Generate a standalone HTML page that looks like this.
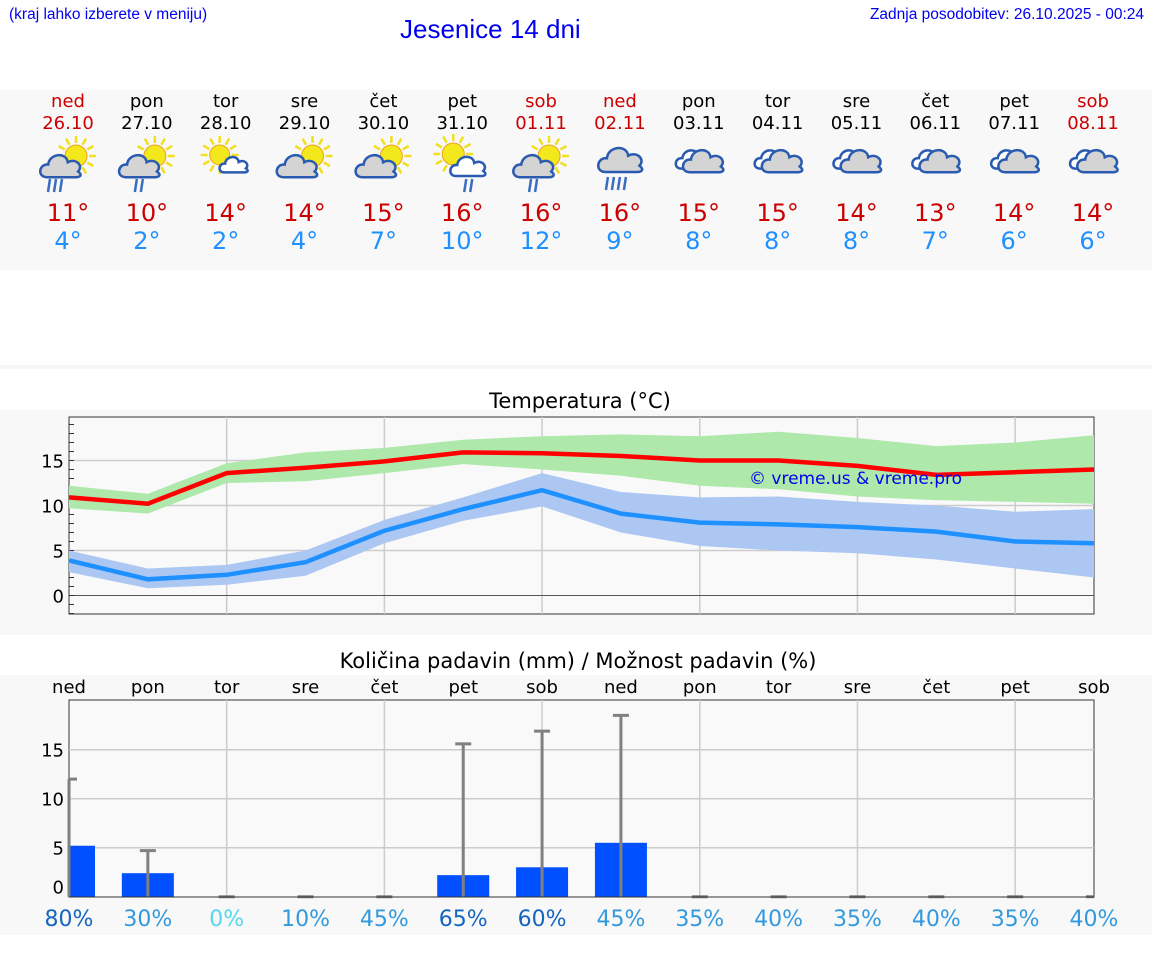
<!DOCTYPE html>
<html><head><meta charset="utf-8">
<style>
body{margin:0;width:1152px;height:975px;background:#fff;font-family:"DejaVu Sans","Liberation Sans",sans-serif;position:relative;overflow:hidden}
.abs{position:absolute}
</style></head>
<body>
<div class="abs" style="left:9px;top:6px;font-size:15.5px;color:#0000ee;font-family:'Liberation Sans',sans-serif">(kraj lahko izberete v meniju)</div>
<div class="abs" style="left:400px;top:14px;font-size:26px;color:#0000ee;font-family:'Liberation Sans',sans-serif">Jesenice 14 dni</div>
<div class="abs" style="right:8px;top:6px;font-size:15.5px;color:#0000ee;font-family:'Liberation Sans',sans-serif">Zadnja posodobitev: 26.10.2025 - 00:24</div>
<svg id="svg" class="abs" style="left:0;top:0" width="1152" height="975"></svg>
<script>
const days=["ned","pon","tor","sre","čet","pet","sob","ned","pon","tor","sre","čet","pet","sob"];
const dates=["26.10","27.10","28.10","29.10","30.10","31.10","01.11","02.11","03.11","04.11","05.11","06.11","07.11","08.11"];
const weekend=[1,0,0,0,0,0,1,1,0,0,0,0,0,1];
const icons=["sunrain","sunrain2","sunsmall","suncloud","suncloud","sunrainR","sunrain2","cloudrain","cloud","cloud","cloud","cloud","cloud","cloud"];
const maxT=[11,10,14,14,15,16,16,16,15,15,14,13,14,14];
const minT=[4,2,2,4,7,10,12,9,8,8,8,7,6,6];
const maxLine=[10.9,10.2,13.6,14.2,14.9,15.9,15.8,15.5,15.0,15.0,14.4,13.4,13.7,14.0];
const maxHi=[12.2,11.3,14.7,15.9,16.4,17.3,17.7,17.9,17.7,18.2,17.5,16.6,17.0,17.8];
const maxLo=[9.7,9.1,12.5,12.7,13.6,14.6,14.0,13.3,12.2,11.8,11.0,10.6,10.4,10.2];
const minLine=[3.9,1.8,2.3,3.7,7.2,9.6,11.7,9.1,8.1,7.9,7.6,7.1,6.0,5.8];
const minHi=[5.0,3.0,3.4,5.0,8.4,10.9,13.6,11.5,10.9,11.0,10.4,10.0,9.3,9.6];
const minLo=[2.6,0.8,1.2,2.2,5.8,8.3,9.9,7.0,5.5,5.0,4.7,4.0,3.0,2.0];
const tempTicks=[0,5,10,15];
const precip=[5.2,2.4,0,0,0,2.2,3.0,5.5,0,0,0,0,0,0];
const precipMax=[12,4.7,0,0,0,15.6,16.9,18.5,0,0,0,0,0,0];
const precipTicks=[0,5,10,15];
const chance=[80,30,0,10,45,65,60,45,35,40,35,40,35,40];

const NS="http://www.w3.org/2000/svg";
const svg=document.getElementById('svg');
function el(tag,attrs,parent){const e=document.createElementNS(NS,tag);for(const k in attrs)e.setAttribute(k,attrs[k]);(parent||svg).appendChild(e);return e;}
function txt(x,y,s,size,fill,name,anchor){const t=el('text',{x:x,y:y,'font-size':size,fill:fill,'text-anchor':anchor||'middle','font-family':'DejaVu Sans, Liberation Sans, sans-serif'});t.textContent=s;return t;}
const X0=69,X1=1094;
const xd=i=>X0+i*(X1-X0)/13;
el('rect',{x:0,y:90,width:1152,height:180,fill:'#f8f8f8'});
el('rect',{x:0,y:365,width:1152,height:4,fill:'#f6f6f6'});
el('rect',{x:0,y:410,width:1152,height:225,fill:'#f8f8f8'});
el('rect',{x:0,y:675,width:1152,height:260,fill:'#f8f8f8'});

function sun(g,cx,cy,r){for(let a=0;a<12;a++){const an=a*Math.PI/6;el('line',{x1:cx+Math.cos(an)*(r+2),y1:cy+Math.sin(an)*(r+2),x2:cx+Math.cos(an)*(r+9),y2:cy+Math.sin(an)*(r+9),stroke:'#f0e020','stroke-width':2.5},g);}el('circle',{cx:cx,cy:cy,r:r,fill:'#f3e81c',stroke:'#f0a020','stroke-width':1},g);}
function cloudP(g,cx,cy,s,fill){const p=`M${cx-13*s},${cy+8*s} C${cx-22*s},${cy+8*s} ${cx-20*s},${cy-4*s} ${cx-12*s},${cy-3*s} C${cx-11*s},${cy-13*s} ${cx+4*s},${cy-14*s} ${cx+5*s},${cy-5*s} C${cx+12*s},${cy-9*s} ${cx+19*s},${cy-2*s} ${cx+14*s},${cy+3*s} C${cx+18*s},${cy+6*s} ${cx+16*s},${cy+8*s} ${cx+12*s},${cy+8*s} Z`;el('path',{d:p,fill:fill,stroke:'#2a5bb0','stroke-width':2.5},g);}
function rain(g,cx,cy,n){for(let k=0;k<n;k++){el('line',{x1:cx+k*6,y1:cy,x2:cx+k*6-2,y2:cy+13,stroke:'#3a6cc0','stroke-width':2.5},g);}}
for(let i=0;i<14;i++){
  const x=xd(i)-1;
  const col=weekend[i]?'#cc0000':'#000';
  txt(x,107,days[i],18,col,'day-label');
  txt(x,129,dates[i],18,col,'date-label');
  const g=el('g',{});
  
  
  const t=icons[i];
  if(t.startsWith('sun')&&t!=='sunsmall'&&t!=='sunrainR'){sun(g,x+8,156,11);cloudP(g,x-6,168,1.15,'#d4d4d4');}
  if(t==='sunsmall'){sun(g,x-6,155,10);cloudP(g,x+9,166,0.8,'#fff');}
  if(t==='sunrainR'){sun(g,x-9,154,11);cloudP(g,x+7,168,1.0,'#fff');rain(g,x+4,179,2);}
  if(t==='sunrain')rain(g,x-18,179,3);
  if(t==='sunrain2')rain(g,x-10,179,2);
  if(t==='cloudrain'){cloudP(g,x+2,162,1.25,'#d4d4d4');rain(g,x-12,177,4);}
  if(t==='cloud'){cloudP(g,x-5,161,0.95,'#fff');cloudP(g,x+6,163,1.15,'#d4d4d4');}
  txt(x,221,maxT[i]+'°',24,'#cc0000','max-temp');
  txt(x,249,minT[i]+'°',24,'#1e90ff','min-temp');
}

const TY0=417,TY1=614;
const ty=v=>595.5-v*9;
txt(580,408,'Temperatura (°C)',21,'#000','temp-chart-title');
el('rect',{x:X0,y:TY0,width:X1-X0,height:TY1-TY0,fill:'#f9f9f9',stroke:'#333','stroke-width':1});
for(let i=2;i<13;i+=2){el('line',{x1:xd(i),y1:TY0,x2:xd(i),y2:TY1,stroke:'#ccc','stroke-width':1.5});}
tempTicks.forEach(v=>{el('line',{x1:X0,y1:ty(v),x2:X1,y2:ty(v),stroke:v===0?'#555':'#ccc','stroke-width':v===0?1:1.5});txt(64,ty(v)+7,String(v),18,'#000','temp-tick','end');});
for(let v=-2;v<=19;v++){el('line',{x1:X0,y1:ty(v),x2:X0+5,y2:ty(v),stroke:'#333','stroke-width':1});}
function band(hi,lo,fill,name){let d='';hi.forEach((v,i)=>d+=(i?'L':'M')+xd(i)+','+ty(v));for(let i=lo.length-1;i>=0;i--)d+='L'+xd(i)+','+ty(lo[i]);const p=el('path',{d:d+'Z',fill:fill});}
function line(vals,col,name){const p=el('polyline',{points:vals.map((v,i)=>xd(i)+','+ty(v)).join(' '),fill:'none',stroke:col,'stroke-width':4.5});}
band(maxHi,maxLo,'#aee8aa','max-temp-band');
band(minHi,minLo,'#adc7f3','min-temp-band');
line(maxLine,'#ff0000','max-temp-line');
line(minLine,'#1e90ff','min-temp-line');
txt(749,484,'© vreme.us & vreme.pro',17,'#0000ee','watermark','start');

const PY0=700,PY1=897;
const py=v=>896.7-v*9.8;
txt(578,668,'Količina padavin (mm) / Možnost padavin (%)',21,'#000','precip-chart-title');
for(let i=0;i<14;i++)txt(xd(i),693,days[i],18,'#000','precip-day-label');
el('rect',{x:X0,y:PY0,width:X1-X0,height:PY1-PY0,fill:'#f9f9f9',stroke:'#333','stroke-width':1});
for(let i=2;i<13;i+=2){el('line',{x1:xd(i),y1:PY0,x2:xd(i),y2:PY1,stroke:'#ccc','stroke-width':1.5});}
precipTicks.forEach(v=>{if(v>0)el('line',{x1:X0,y1:py(v),x2:X1,y2:py(v),stroke:'#ccc','stroke-width':1.5});txt(64,(v===0?py(v)-3:py(v)+7),String(v),18,'#000','precip-tick','end');});
for(let i=0;i<14;i++){
  const x=xd(i),w=52;
  if(precip[i]>0){const l=Math.max(X0,x-w/2),r=Math.min(X1,x+w/2);const b=el('rect',{x:l,y:py(precip[i]),width:r-l,height:py(0)-py(precip[i]),fill:'#0050ff'});}
  const e=el('g',{});
  
  
  el('line',{x1:x,y1:py(0),x2:x,y2:py(precipMax[i]),stroke:'#808080','stroke-width':3},e);
  el('line',{x1:Math.max(X0,x-8),y1:py(precipMax[i]),x2:Math.min(X1,x+8),y2:py(precipMax[i]),stroke:'#808080','stroke-width':3},e);
  const c=chance[i];
  const col=c===0?'#55d8ee':(c>=60?'#1565c0':'#3399dd');
  txt(x,926,c+'%',22,col,'precip-chance');
}
el('line',{x1:X0,y1:PY1,x2:X1,y2:PY1,stroke:'#333','stroke-width':1});
</script>
</body></html>
